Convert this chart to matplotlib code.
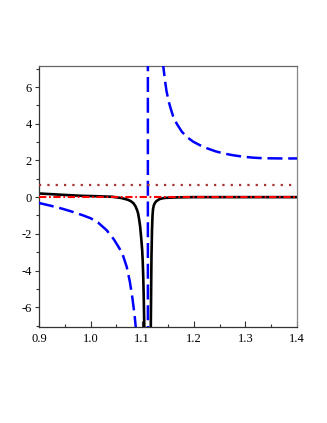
import matplotlib
matplotlib.use("Agg")
import matplotlib.pyplot as plt
from matplotlib.ticker import MultipleLocator, FormatStrFormatter

plt.rcParams['font.family'] = ['Liberation Serif', 'DejaVu Serif']
plt.rcParams['axes.unicode_minus'] = False

# Blue dashed curve (pole near x = 1.111, drawn through the jump)
blue_x = [0.9, 0.92, 0.945, 0.965, 0.984, 1.0, 1.015, 1.031, 1.045, 1.056,
          1.063, 1.07, 1.076, 1.081, 1.0855, 1.0875, 1.09, 1.111, 1.111,
          1.138, 1.141, 1.144, 1.147, 1.151, 1.155, 1.16, 1.167, 1.177,
          1.188, 1.199, 1.212, 1.226, 1.242, 1.258, 1.277, 1.297, 1.316,
          1.336, 1.37, 1.4]
blue_y = [-0.32, -0.45, -0.63, -0.8, -0.98, -1.15, -1.4, -1.8, -2.3, -2.8,
          -3.2, -3.8, -4.6, -5.5, -6.5, -7.1, -8.0, -100.0, 100.0,
          8.0, 7.1, 6.4, 5.8, 5.25, 4.85, 4.4, 4.0, 3.56,
          3.25, 3.02, 2.83, 2.66, 2.5, 2.38, 2.28, 2.2, 2.15,
          2.12, 2.11, 2.11]

# Black solid curve (narrow negative spike near x = 1.11)
black_x = [0.9, 0.95, 0.984, 1.0, 1.042, 1.06, 1.072, 1.078, 1.083, 1.087,
           1.09, 1.092, 1.094, 1.096, 1.098, 1.1, 1.101, 1.102, 1.103, 1.104,
           1.105, 1.116, 1.117, 1.1175, 1.118, 1.119, 1.12, 1.121, 1.1225,
           1.1246, 1.127, 1.13, 1.134, 1.14, 1.145, 1.17, 1.2, 1.3, 1.4]
black_y = [0.2, 0.12, 0.07, 0.06, 0.02, -0.05, -0.14, -0.22, -0.33, -0.5,
           -0.7, -0.88, -1.2, -1.6, -2.2, -2.9, -3.5, -4.3, -5.5, -7.0,
           -9.0, -9.0, -6.0, -4.5, -3.2, -1.8, -1.0, -0.65, -0.45,
           -0.32, -0.23, -0.17, -0.1, -0.06, -0.04, -0.01, 0.0, 0.0, 0.0]

# Horizontal reference lines
hline_x = [0.9, 1.4]
dotted_y = [0.66, 0.66]
dashdot_y = [0.0, 0.0]

xticks = [0.9, 1.0, 1.1, 1.2, 1.3, 1.4]
yticks = [-6, -4, -2, 0, 2, 4, 6]

fig = plt.figure(figsize=(3.27, 4.23), dpi=100)
ax = fig.add_axes([39/327, 1-327/423, 258/327, 261/423])

ax.plot(black_x, black_y, color='black', lw=1.9, solid_joinstyle='round', zorder=2)
ax.plot(blue_x, blue_y, color='#0000FF', lw=1.8, dashes=(6, 2.3), zorder=3)
ax.plot(hline_x, dotted_y, color='#A83232', lw=1.6, dashes=(1, 2.75), zorder=3)
ax.plot(hline_x, dashdot_y, color='#FF0000', lw=1.5, dashes=(3.5, 1.3, 0.8, 1.3), zorder=4)

ax.set_xlim(0.9, 1.4)
ax.set_ylim(-7.08, 7.15)
ax.set_xticks(xticks)
ax.set_yticks(yticks)
ax.xaxis.set_major_formatter(FormatStrFormatter('%.1f'))
ax.xaxis.set_minor_locator(MultipleLocator(0.05))
ax.yaxis.set_minor_locator(MultipleLocator(1))

ax.tick_params(axis='x', which='major', direction='in', length=4, width=0.8,
               labelsize=9, pad=4, colors='#333333', labelcolor='black')
ax.tick_params(axis='x', which='minor', direction='in', length=2.5, width=0.8, colors='#333333')
ax.tick_params(axis='y', which='major', direction='out', length=3, width=0.8,
               labelsize=9, pad=2, colors='#333333', labelcolor='black')
ax.tick_params(axis='y', which='minor', direction='out', length=2, width=0.8, colors='#333333')

ax.spines['left'].set_color('#333333')
ax.spines['bottom'].set_color('#333333')
ax.spines['top'].set_color('#666666')
ax.spines['right'].set_color('#888888')
for s in ax.spines.values():
    s.set_linewidth(0.9)

fig.savefig('out.png', dpi=100)
